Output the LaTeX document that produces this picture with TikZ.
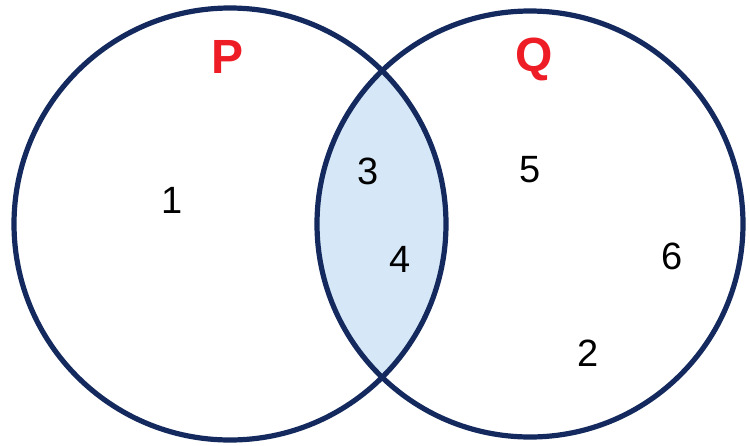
\documentclass[tikz,border=0pt]{standalone}
\usepackage{fontspec}
\setmainfont{Liberation Sans}
\definecolor{navy}{HTML}{142A5E}
\definecolor{lens}{HTML}{D6E8F7}
\definecolor{setred}{HTML}{EE1C25}
\begin{document}
\begin{tikzpicture}[x=1pt,y=-1pt,
  setline/.style={draw=navy,line width=5.2pt},
  elem/.style={font=\fontsize{38}{40}\selectfont,text=black,inner sep=0pt},
  setlabel/.style={font=\fontsize{48}{50}\selectfont\bfseries,text=setred,inner sep=0pt}]
\useasboundingbox (0,0) rectangle (750,445);
\begin{scope}
  \clip (230,224) circle (216);
  \fill[lens] (530,224) circle (213);
\end{scope}
\draw[setline] (230,224) circle (216);
\draw[setline] (530,224) circle (213);
\node[setlabel] (P) at (228,57) {P};
\node[setlabel] (Q) at (534,59) {Q};
\node[elem] (e1) at (172,200) {1};
\node[elem] (e3) at (368,171) {3};
\node[elem] (e4) at (400,259) {4};
\node[elem] (e5) at (530,170) {5};
\node[elem] (e6) at (672,256) {6};
\node[elem] (e2) at (588,353) {2};
\end{tikzpicture}
\end{document}
